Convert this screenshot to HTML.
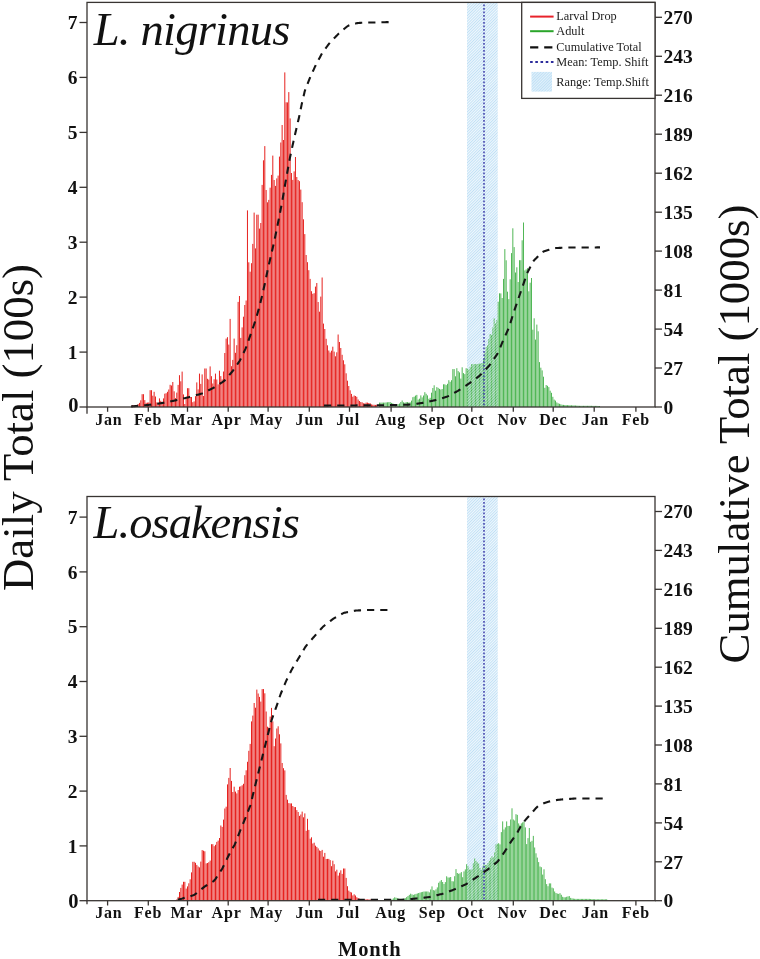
<!DOCTYPE html><html><head><meta charset="utf-8"><style>html,body{margin:0;padding:0;background:#fff;width:760px;height:959px;overflow:hidden}svg{display:block;will-change:transform}</style></head><body>
<svg width="760" height="959" viewBox="0 0 760 959" font-family='"Liberation Serif", serif'>
<defs><pattern id="hatch" patternUnits="userSpaceOnUse" width="2" height="2" patternTransform="rotate(45)"><rect width="2" height="2" fill="rgb(192,224,245)"/><rect width="0.75" height="2" fill="#eef7fd"/></pattern><pattern id="hatchw" patternUnits="userSpaceOnUse" width="2" height="2" patternTransform="rotate(45)"><rect width="0.75" height="2" fill="#fff" fill-opacity="0.6"/></pattern></defs>
<rect width="760" height="959" fill="#fff"/>
<rect x="467" y="3.0" width="30.7" height="404.0" fill="url(#hatch)"/>
<path d="M132.80 407.0V405.0M134.13 407.0V405.4M135.47 407.0V405.8M136.80 407.0V405.3M138.13 407.0V404.1M139.47 407.0V402.9M140.80 407.0V400.3M142.13 407.0V394.2M143.47 407.0V394.2M144.80 407.0V400.1M146.13 407.0V402.8M147.47 407.0V402.6M148.80 407.0V402.4M150.13 407.0V390.2M151.47 407.0V390.2M152.80 407.0V395.7M154.13 407.0V391.8M155.47 407.0V396.5M156.80 407.0V402.4M158.13 407.0V403.1M159.47 407.0V398.4M160.80 407.0V400.8M162.13 407.0V403.5M163.47 407.0V398.4M164.80 407.0V393.7M166.13 407.0V393.2M167.47 407.0V391.8M168.80 407.0V389.5M170.13 407.0V384.8M171.47 407.0V385.5M172.80 407.0V382.0M174.13 407.0V391.3M175.47 407.0V398.1M176.80 407.0V392.6M178.13 407.0V384.9M179.47 407.0V375.2M180.80 407.0V381.3M182.13 407.0V371.6M183.47 407.0V394.4M184.80 407.0V404.0M186.13 407.0V398.1M187.47 407.0V388.2M188.80 407.0V388.2M190.13 407.0V397.0M191.47 407.0V397.0M192.80 407.0V402.2M194.13 407.0V401.4M195.47 407.0V396.2M196.80 407.0V382.4M198.13 407.0V389.4M199.47 407.0V373.6M200.80 407.0V383.9M202.13 407.0V374.4M203.46 407.0V396.0M204.80 407.0V368.5M206.13 407.0V368.5M207.46 407.0V378.8M208.80 407.0V379.6M210.13 407.0V366.4M211.46 407.0V376.2M212.80 407.0V383.5M214.13 407.0V379.3M215.46 407.0V373.6M216.80 407.0V379.5M218.13 407.0V384.4M219.46 407.0V370.7M220.80 407.0V376.1M222.13 407.0V379.4M223.46 407.0V371.5M224.80 407.0V353.0M226.13 407.0V338.6M227.46 407.0V337.2M228.80 407.0V344.6M230.13 407.0V318.9M231.46 407.0V366.2M232.80 407.0V359.9M234.13 407.0V338.6M235.46 407.0V352.8M236.80 407.0V345.2M238.13 407.0V301.9M239.46 407.0V296.0M240.80 407.0V337.9M242.13 407.0V327.4M243.46 407.0V316.7M244.80 407.0V305.0M246.13 407.0V300.5M247.46 407.0V210.4M248.80 407.0V262.3M250.13 407.0V271.7M251.46 407.0V263.2M252.80 407.0V243.9M254.13 407.0V212.6M255.46 407.0V248.4M256.80 407.0V214.7M258.13 407.0V214.7M259.46 407.0V228.6M260.80 407.0V223.0M262.13 407.0V184.9M263.46 407.0V160.3M264.80 407.0V146.1M266.13 407.0V190.0M267.46 407.0V202.3M268.80 407.0V199.9M270.13 407.0V187.7M271.46 407.0V174.9M272.80 407.0V155.6M274.13 407.0V180.0M275.46 407.0V185.9M276.80 407.0V178.4M278.13 407.0V175.6M279.46 407.0V156.6M280.80 407.0V142.5M282.13 407.0V125.0M283.46 407.0V140.0M284.80 407.0V72.4M286.13 407.0V102.3M287.46 407.0V102.4M288.80 407.0V92.1M290.13 407.0V118.4M291.46 407.0V173.0M292.80 407.0V179.9M294.13 407.0V171.4M295.46 407.0V157.0M296.80 407.0V177.0M298.13 407.0V180.0M299.46 407.0V181.2M300.80 407.0V189.6M302.13 407.0V202.2M303.46 407.0V219.3M304.80 407.0V234.1M306.13 407.0V255.0M307.46 407.0V262.2M308.80 407.0V270.2M310.13 407.0V278.9M311.46 407.0V291.2M312.80 407.0V293.8M314.13 407.0V293.2M315.46 407.0V286.6M316.80 407.0V283.0M318.13 407.0V302.0M319.46 407.0V311.7M320.80 407.0V296.6M322.13 407.0V277.5M323.46 407.0V323.6M324.80 407.0V329.0M326.13 407.0V338.8M327.46 407.0V345.3M328.80 407.0V350.5M330.13 407.0V352.5M331.46 407.0V350.7M332.80 407.0V346.7M334.13 407.0V351.6M335.46 407.0V356.3M336.79 407.0V352.3M338.13 407.0V334.5M339.46 407.0V342.0M340.79 407.0V348.0M342.13 407.0V354.8M343.46 407.0V360.3M344.79 407.0V364.3M346.13 407.0V373.3M347.46 407.0V380.7M348.79 407.0V386.0M350.13 407.0V390.3M351.46 407.0V393.9M352.79 407.0V396.7M354.13 407.0V395.5M355.46 407.0V396.0M356.79 407.0V396.8M358.13 407.0V399.5M359.46 407.0V401.0M360.79 407.0V402.0M362.13 407.0V402.3M363.46 407.0V403.3M364.79 407.0V403.4M366.13 407.0V402.6M367.46 407.0V402.6M368.79 407.0V403.0M370.13 407.0V403.2M371.46 407.0V404.4M372.79 407.0V404.7M374.13 407.0V404.8M375.46 407.0V404.9M376.79 407.0V404.9" stroke="#e6221f" stroke-width="1" fill="none"/>
<path d="M379.50 407.0V402.6M380.83 407.0V402.6M382.17 407.0V402.6M383.50 407.0V402.6M384.83 407.0V402.6M386.17 407.0V402.4M387.50 407.0V402.3M388.83 407.0V402.1M390.17 407.0V402.1M391.50 407.0V402.9M392.83 407.0V403.4M394.17 407.0V404.0M395.50 407.0V404.2M396.83 407.0V404.2M398.17 407.0V404.2M399.50 407.0V403.5M400.83 407.0V402.0M402.17 407.0V400.5M403.50 407.0V402.3M404.83 407.0V402.7M406.17 407.0V402.1M407.50 407.0V402.1M408.83 407.0V402.5M410.17 407.0V402.3M411.50 407.0V400.6M412.83 407.0V397.2M414.17 407.0V396.7M415.50 407.0V395.6M416.83 407.0V394.9M418.17 407.0V399.6M419.50 407.0V398.7M420.83 407.0V395.4M422.17 407.0V397.4M423.50 407.0V395.5M424.83 407.0V392.2M426.17 407.0V393.8M427.50 407.0V395.4M428.83 407.0V398.8M430.17 407.0V397.8M431.50 407.0V392.7M432.83 407.0V388.0M434.17 407.0V385.3M435.50 407.0V390.7M436.83 407.0V387.1M438.17 407.0V387.9M439.50 407.0V388.9M440.83 407.0V389.5M442.17 407.0V389.0M443.50 407.0V384.3M444.83 407.0V384.3M446.17 407.0V385.1M447.50 407.0V383.8M448.83 407.0V380.2M450.16 407.0V381.8M451.50 407.0V380.2M452.83 407.0V369.1M454.16 407.0V369.1M455.50 407.0V376.3M456.83 407.0V368.2M458.16 407.0V371.1M459.50 407.0V372.4M460.83 407.0V378.6M462.16 407.0V367.3M463.50 407.0V373.1M464.83 407.0V374.1M466.16 407.0V368.2M467.50 407.0V368.8M468.83 407.0V369.5M470.16 407.0V366.9M471.50 407.0V364.2M472.83 407.0V364.2M474.16 407.0V364.1M475.50 407.0V364.1M476.83 407.0V364.1M478.16 407.0V363.9M479.50 407.0V363.6M480.83 407.0V363.4M482.16 407.0V363.0M483.50 407.0V359.0M484.83 407.0V352.3M486.16 407.0V347.1M487.50 407.0V345.4M488.83 407.0V339.2M490.16 407.0V334.0M491.50 407.0V334.9M492.83 407.0V327.4M494.16 407.0V318.3M495.50 407.0V323.5M496.83 407.0V320.1M498.16 407.0V301.7M499.50 407.0V293.3M500.83 407.0V293.4M502.16 407.0V298.0M503.50 407.0V278.9M504.83 407.0V249.1M506.16 407.0V260.3M507.50 407.0V291.7M508.83 407.0V299.1M510.16 407.0V279.3M511.50 407.0V253.1M512.83 407.0V228.3M514.16 407.0V247.1M515.50 407.0V272.5M516.83 407.0V267.3M518.16 407.0V282.0M519.50 407.0V260.2M520.83 407.0V260.2M522.16 407.0V240.3M523.50 407.0V222.5M524.83 407.0V270.4M526.16 407.0V269.4M527.50 407.0V268.2M528.83 407.0V291.3M530.16 407.0V282.7M531.50 407.0V278.0M532.83 407.0V329.7M534.16 407.0V318.3M535.50 407.0V339.6M536.83 407.0V324.6M538.16 407.0V331.3M539.50 407.0V362.1M540.83 407.0V367.7M542.16 407.0V370.4M543.50 407.0V376.7M544.83 407.0V387.8M546.16 407.0V385.0M547.50 407.0V385.8M548.83 407.0V387.1M550.16 407.0V390.7M551.50 407.0V392.8M552.83 407.0V396.8M554.16 407.0V399.6M555.50 407.0V400.6M556.83 407.0V402.4M558.16 407.0V403.3M559.50 407.0V403.8M560.83 407.0V404.3M562.16 407.0V404.8M563.50 407.0V404.9M564.83 407.0V405.0M566.16 407.0V405.1M567.50 407.0V405.2M568.83 407.0V405.2M570.16 407.0V405.3M571.50 407.0V405.3M572.83 407.0V405.4M574.16 407.0V405.4M575.50 407.0V405.5M576.83 407.0V405.6M578.16 407.0V405.7M579.50 407.0V405.8M580.83 407.0V405.8M582.16 407.0V405.8M583.49 407.0V405.8M584.83 407.0V405.8M586.16 407.0V405.8M587.49 407.0V405.8M588.83 407.0V405.8M590.16 407.0V405.8M591.49 407.0V405.8M592.83 407.0V405.9M594.16 407.0V405.9M595.49 407.0V405.9M596.83 407.0V405.9M598.16 407.0V406.0M599.49 407.0V406.0" stroke="#32aa38" stroke-width="0.85" fill="none"/>
<rect x="467" y="3.0" width="30.7" height="404.0" fill="url(#hatchw)"/>
<line x1="484" y1="4.4" x2="484" y2="407.0" stroke="#3a3aa8" stroke-width="1.5" stroke-dasharray="1.8 1.7"/>
<path d="M131.00 406.50 L131.96 406.41 L132.64 406.35 L133.40 406.28 L134.19 406.21 L134.99 406.14 L135.79 406.06 L136.59 405.99 L137.39 405.92 L138.19 405.85 L138.99 405.77 L139.78 405.70 L140.58 405.63 L141.38 405.56 L142.18 405.48 L142.98 405.41 L143.78 405.34 L144.58 405.27 L145.37 405.19 L146.17 405.12 L146.97 405.05 L147.77 404.97 L148.57 404.90 L149.37 404.81 L150.16 404.72 L150.96 404.62 L151.75 404.51 L152.55 404.40 L153.34 404.28 L154.13 404.17 L154.93 404.06 L155.72 403.95 L156.52 403.83 L157.31 403.72 L158.10 403.61 L158.90 403.50 L159.69 403.38 L160.49 403.27 L161.28 403.16 L162.07 403.04 L162.86 402.91 L163.65 402.77 L164.44 402.62 L165.23 402.46 L166.01 402.30 L166.80 402.14 L167.58 401.98 L168.37 401.82 L169.15 401.66 L169.94 401.50 L170.73 401.34 L171.51 401.18 L172.30 401.02 L173.08 400.86 L173.87 400.69 L174.65 400.53 L175.44 400.36 L176.22 400.19 L177.00 400.01 L177.78 399.83 L178.56 399.64 L179.34 399.45 L180.12 399.27 L180.90 399.08 L181.68 398.90 L182.46 398.71 L183.24 398.52 L184.02 398.34 L184.80 398.15 L185.58 397.96 L186.36 397.78 L187.14 397.59 L187.92 397.40 L188.70 397.21 L189.47 397.01 L190.25 396.80 L191.02 396.59 L191.79 396.37 L192.57 396.16 L193.34 395.94 L194.11 395.72 L194.88 395.51 L195.66 395.29 L196.43 395.07 L197.20 394.86 L197.97 394.64 L198.74 394.42 L199.52 394.21 L200.29 393.99 L201.06 393.76 L201.82 393.52 L202.56 393.24 L203.30 392.92 L204.02 392.58 L204.74 392.22 L205.45 391.86 L206.17 391.50 L206.89 391.14 L207.60 390.78 L208.32 390.42 L209.03 390.05 L209.75 389.69 L210.47 389.33 L211.18 388.97 L211.90 388.61 L212.61 388.24 L213.32 387.87 L214.02 387.48 L214.70 387.06 L215.38 386.64 L216.06 386.21 L216.73 385.77 L217.41 385.34 L218.08 384.91 L218.76 384.47 L219.43 384.04 L220.10 383.60 L220.78 383.17 L221.45 382.73 L222.13 382.30 L222.79 381.86 L223.45 381.40 L224.07 380.91 L224.66 380.38 L225.21 379.80 L225.74 379.20 L226.26 378.59 L226.78 377.98 L227.30 377.37 L227.82 376.76 L228.34 376.15 L228.86 375.54 L229.38 374.93 L229.90 374.32 L230.42 373.71 L230.94 373.10 L231.46 372.49 L231.98 371.87 L232.48 371.25 L232.97 370.62 L233.45 369.97 L233.91 369.32 L234.36 368.66 L234.81 368.00 L235.27 367.33 L235.72 366.67 L236.17 366.01 L236.62 365.35 L237.07 364.69 L237.53 364.02 L237.98 363.36 L238.43 362.70 L238.88 362.03 L239.32 361.37 L239.74 360.69 L240.14 359.99 L240.51 359.28 L240.87 358.57 L241.22 357.84 L241.56 357.12 L241.91 356.40 L242.25 355.67 L242.59 354.95 L242.94 354.22 L243.28 353.50 L243.63 352.78 L243.97 352.05 L244.32 351.33 L244.66 350.60 L245.00 349.88 L245.34 349.15 L245.67 348.42 L245.97 347.68 L246.26 346.93 L246.53 346.18 L246.80 345.42 L247.06 344.66 L247.33 343.91 L247.59 343.15 L247.85 342.39 L248.12 341.63 L248.38 340.88 L248.64 340.12 L248.91 339.36 L249.17 338.61 L249.43 337.85 L249.70 337.09 L249.96 336.33 L250.23 335.58 L250.49 334.82 L250.75 334.06 L251.02 333.30 L251.28 332.55 L251.54 331.79 L251.81 331.03 L252.07 330.28 L252.34 329.52 L252.60 328.76 L252.86 328.00 L253.13 327.25 L253.39 326.49 L253.66 325.73 L253.92 324.97 L254.18 324.22 L254.45 323.46 L254.71 322.70 L254.96 321.94 L255.21 321.18 L255.45 320.41 L255.68 319.65 L255.90 318.88 L256.13 318.11 L256.35 317.34 L256.57 316.57 L256.80 315.80 L257.02 315.03 L257.24 314.25 L257.47 313.48 L257.69 312.71 L257.91 311.94 L258.14 311.17 L258.36 310.40 L258.58 309.63 L258.80 308.86 L259.02 308.09 L259.23 307.32 L259.43 306.54 L259.63 305.76 L259.82 304.99 L260.02 304.21 L260.21 303.43 L260.40 302.65 L260.60 301.87 L260.79 301.09 L260.98 300.32 L261.17 299.54 L261.37 298.76 L261.56 297.98 L261.75 297.20 L261.95 296.42 L262.13 295.65 L262.32 294.87 L262.50 294.08 L262.68 293.30 L262.85 292.52 L263.02 291.74 L263.20 290.95 L263.37 290.17 L263.54 289.39 L263.72 288.60 L263.89 287.82 L264.06 287.04 L264.24 286.26 L264.41 285.47 L264.58 284.69 L264.76 283.91 L264.93 283.12 L265.10 282.34 L265.27 281.56 L265.43 280.77 L265.60 279.99 L265.76 279.20 L265.93 278.42 L266.09 277.63 L266.25 276.85 L266.42 276.06 L266.58 275.28 L266.75 274.49 L266.91 273.71 L267.07 272.92 L267.24 272.14 L267.40 271.35 L267.56 270.57 L267.73 269.78 L267.89 269.00 L268.06 268.21 L268.24 267.43 L268.41 266.65 L268.59 265.87 L268.77 265.08 L268.95 264.30 L269.13 263.52 L269.31 262.74 L269.49 261.96 L269.67 261.18 L269.85 260.40 L270.03 259.61 L270.21 258.83 L270.39 258.05 L270.57 257.27 L270.75 256.49 L270.93 255.71 L271.11 254.93 L271.29 254.14 L271.47 253.36 L271.65 252.58 L271.84 251.80 L272.02 251.02 L272.20 250.24 L272.39 249.46 L272.57 248.68 L272.75 247.90 L272.93 247.12 L273.12 246.34 L273.30 245.56 L273.48 244.77 L273.66 243.99 L273.84 243.21 L274.02 242.43 L274.20 241.65 L274.37 240.86 L274.53 240.08 L274.69 239.29 L274.85 238.51 L275.01 237.72 L275.17 236.94 L275.33 236.15 L275.49 235.37 L275.65 234.58 L275.81 233.79 L275.97 233.01 L276.13 232.22 L276.29 231.44 L276.45 230.65 L276.62 229.87 L276.78 229.08 L276.94 228.29 L277.09 227.51 L277.25 226.72 L277.41 225.94 L277.57 225.15 L277.72 224.36 L277.88 223.58 L278.04 222.79 L278.19 222.00 L278.35 221.22 L278.50 220.43 L278.66 219.64 L278.82 218.86 L278.97 218.07 L279.13 217.28 L279.28 216.50 L279.44 215.71 L279.60 214.92 L279.75 214.14 L279.91 213.35 L280.06 212.56 L280.21 211.78 L280.36 210.99 L280.52 210.20 L280.67 209.41 L280.82 208.63 L280.97 207.84 L281.13 207.05 L281.28 206.27 L281.43 205.48 L281.58 204.69 L281.74 203.90 L281.89 203.12 L282.04 202.33 L282.19 201.54 L282.33 200.75 L282.47 199.96 L282.61 199.17 L282.74 198.38 L282.88 197.59 L283.01 196.80 L283.14 196.01 L283.28 195.22 L283.41 194.43 L283.54 193.64 L283.68 192.85 L283.81 192.06 L283.94 191.26 L284.08 190.47 L284.21 189.68 L284.34 188.89 L284.48 188.10 L284.61 187.31 L284.74 186.52 L284.88 185.73 L285.02 184.94 L285.16 184.15 L285.30 183.36 L285.44 182.57 L285.58 181.78 L285.72 180.99 L285.87 180.20 L286.01 179.42 L286.15 178.63 L286.29 177.84 L286.44 177.05 L286.58 176.26 L286.72 175.47 L286.86 174.68 L287.00 173.89 L287.15 173.10 L287.29 172.31 L287.43 171.52 L287.57 170.73 L287.72 169.95 L287.86 169.16 L288.00 168.37 L288.14 167.58 L288.29 166.79 L288.43 166.00 L288.57 165.21 L288.71 164.42 L288.86 163.63 L289.00 162.84 L289.14 162.05 L289.28 161.26 L289.43 160.48 L289.57 159.69 L289.72 158.90 L289.87 158.11 L290.03 157.33 L290.20 156.54 L290.37 155.76 L290.53 154.97 L290.70 154.19 L290.87 153.41 L291.04 152.62 L291.21 151.84 L291.37 151.05 L291.54 150.27 L291.71 149.48 L291.88 148.70 L292.05 147.92 L292.21 147.13 L292.38 146.35 L292.55 145.56 L292.72 144.78 L292.90 144.00 L293.07 143.22 L293.25 142.43 L293.42 141.65 L293.60 140.87 L293.78 140.09 L293.96 139.31 L294.13 138.52 L294.31 137.74 L294.49 136.96 L294.67 136.18 L294.84 135.40 L295.02 134.61 L295.20 133.83 L295.38 133.05 L295.55 132.27 L295.73 131.49 L295.91 130.70 L296.09 129.92 L296.27 129.14 L296.45 128.36 L296.63 127.58 L296.82 126.80 L297.00 126.02 L297.18 125.24 L297.36 124.45 L297.54 123.67 L297.73 122.89 L297.91 122.11 L298.09 121.33 L298.27 120.55 L298.45 119.77 L298.64 118.99 L298.82 118.21 L298.99 117.42 L299.16 116.64 L299.33 115.86 L299.49 115.07 L299.66 114.29 L299.82 113.50 L299.98 112.71 L300.14 111.93 L300.30 111.14 L300.46 110.36 L300.62 109.57 L300.78 108.79 L300.94 108.00 L301.10 107.22 L301.26 106.43 L301.42 105.64 L301.59 104.86 L301.75 104.08 L301.93 103.29 L302.10 102.51 L302.28 101.73 L302.46 100.95 L302.65 100.17 L302.83 99.39 L303.01 98.60 L303.19 97.82 L303.38 97.04 L303.56 96.26 L303.74 95.48 L303.92 94.70 L304.10 93.92 L304.29 93.14 L304.47 92.36 L304.67 91.58 L304.88 90.81 L305.12 90.05 L305.39 89.29 L305.68 88.55 L305.97 87.80 L306.27 87.05 L306.56 86.31 L306.86 85.56 L307.16 84.82 L307.45 84.07 L307.75 83.33 L308.04 82.58 L308.34 81.84 L308.63 81.09 L308.93 80.35 L309.23 79.60 L309.52 78.86 L309.83 78.11 L310.14 77.38 L310.46 76.64 L310.79 75.91 L311.12 75.18 L311.45 74.45 L311.79 73.72 L312.12 72.99 L312.45 72.26 L312.79 71.53 L313.12 70.81 L313.46 70.08 L313.79 69.35 L314.12 68.62 L314.46 67.89 L314.79 67.16 L315.13 66.43 L315.48 65.71 L315.84 64.99 L316.20 64.28 L316.57 63.57 L316.95 62.86 L317.33 62.15 L317.70 61.45 L318.08 60.74 L318.46 60.03 L318.83 59.32 L319.21 58.62 L319.59 57.91 L319.96 57.20 L320.34 56.49 L320.72 55.78 L321.10 55.08 L321.48 54.37 L321.87 53.67 L322.29 52.99 L322.73 52.32 L323.19 51.67 L323.66 51.02 L324.14 50.38 L324.61 49.73 L325.09 49.09 L325.56 48.44 L326.04 47.79 L326.52 47.15 L326.99 46.50 L327.47 45.86 L327.95 45.21 L328.42 44.57 L328.90 43.93 L329.39 43.30 L329.90 42.68 L330.44 42.08 L330.98 41.50 L331.54 40.92 L332.10 40.35 L332.66 39.77 L333.22 39.20 L333.78 38.63 L334.34 38.05 L334.90 37.48 L335.47 36.91 L336.03 36.33 L336.59 35.76 L337.15 35.19 L337.71 34.62 L338.28 34.06 L338.87 33.51 L339.46 32.97 L340.06 32.44 L340.67 31.92 L341.28 31.40 L341.89 30.88 L342.51 30.36 L343.12 29.84 L343.73 29.32 L344.34 28.80 L344.95 28.28 L345.56 27.76 L346.17 27.24 L346.79 26.74 L347.42 26.26 L348.08 25.84 L348.79 25.50 L349.53 25.23 L350.29 24.99 L351.06 24.77 L351.84 24.56 L352.61 24.34 L353.38 24.12 L354.15 23.91 L354.93 23.69 L355.70 23.48 L356.48 23.29 L357.26 23.13 L358.05 23.01 L358.84 22.94 L359.64 22.88 L360.44 22.84 L361.24 22.80 L362.04 22.75 L362.84 22.71 L363.64 22.67 L364.44 22.64 L365.25 22.61 L366.05 22.59 L366.85 22.57 L367.65 22.56 L368.45 22.55 L369.25 22.54 L370.06 22.53 L370.86 22.51 L371.66 22.50 L372.46 22.49 L373.26 22.48 L374.06 22.47 L374.87 22.46 L375.67 22.44 L376.47 22.43 L377.27 22.42 L378.07 22.41 L378.88 22.39 L379.68 22.37 L380.48 22.34 L381.28 22.32 L382.08 22.30 L382.88 22.27 L383.68 22.25 L384.49 22.22 L385.29 22.20 L386.09 22.17 L386.89 22.15 L387.69 22.12 L388.49 22.10 L389.29 22.07 L390.06 22.05 L390.73 22.03 L391.70 22.00" fill="none" stroke="#151515" stroke-width="2.1" stroke-dasharray="7.2 6"/>
<path d="M324.00 405.60 L324.97 405.59 L325.65 405.59 L326.41 405.59 L327.21 405.58 L328.01 405.58 L328.81 405.57 L329.62 405.57 L330.42 405.56 L331.22 405.56 L332.02 405.56 L332.83 405.55 L333.63 405.55 L334.43 405.54 L335.23 405.54 L336.03 405.53 L336.84 405.53 L337.64 405.52 L338.44 405.52 L339.24 405.52 L340.05 405.51 L340.85 405.51 L341.65 405.50 L342.45 405.50 L343.25 405.49 L344.06 405.49 L344.86 405.48 L345.66 405.48 L346.46 405.48 L347.27 405.47 L348.07 405.47 L348.87 405.46 L349.67 405.46 L350.48 405.45 L351.28 405.45 L352.08 405.44 L352.88 405.44 L353.68 405.44 L354.49 405.43 L355.29 405.43 L356.09 405.42 L356.89 405.42 L357.70 405.41 L358.50 405.41 L359.30 405.40 L360.10 405.40 L360.91 405.39 L361.71 405.39 L362.51 405.38 L363.31 405.37 L364.11 405.37 L364.92 405.36 L365.72 405.36 L366.52 405.35 L367.32 405.34 L368.13 405.34 L368.93 405.33 L369.73 405.33 L370.53 405.32 L371.34 405.31 L372.14 405.31 L372.94 405.30 L373.74 405.29 L374.54 405.29 L375.35 405.28 L376.15 405.28 L376.95 405.27 L377.75 405.26 L378.56 405.26 L379.36 405.25 L380.16 405.24 L380.96 405.24 L381.76 405.23 L382.57 405.23 L383.37 405.22 L384.17 405.21 L384.97 405.21 L385.78 405.20 L386.58 405.18 L387.38 405.17 L388.18 405.15 L388.98 405.14 L389.79 405.12 L390.59 405.10 L391.39 405.08 L392.19 405.07 L393.00 405.05 L393.80 405.03 L394.60 405.02 L395.40 405.00 L396.20 404.98 L397.01 404.96 L397.81 404.95 L398.61 404.93 L399.41 404.91 L400.21 404.89 L401.02 404.86 L401.82 404.84 L402.62 404.81 L403.42 404.78 L404.22 404.76 L405.03 404.73 L405.83 404.70 L406.63 404.68 L407.43 404.65 L408.23 404.62 L409.03 404.59 L409.84 404.56 L410.64 404.53 L411.44 404.47 L412.23 404.40 L413.03 404.30 L413.82 404.19 L414.62 404.07 L415.41 403.95 L416.20 403.83 L417.00 403.71 L417.79 403.59 L418.58 403.47 L419.38 403.34 L420.17 403.22 L420.96 403.10 L421.75 402.98 L422.55 402.85 L423.34 402.72 L424.12 402.57 L424.91 402.41 L425.70 402.25 L426.48 402.08 L427.26 401.91 L428.05 401.74 L428.83 401.57 L429.62 401.40 L430.40 401.23 L431.19 401.06 L431.97 400.89 L432.75 400.72 L433.54 400.55 L434.32 400.38 L435.11 400.21 L435.89 400.03 L436.67 399.84 L437.44 399.63 L438.21 399.40 L438.97 399.16 L439.74 398.92 L440.50 398.67 L441.27 398.43 L442.03 398.18 L442.79 397.94 L443.56 397.69 L444.32 397.45 L445.08 397.20 L445.85 396.95 L446.61 396.70 L447.36 396.44 L448.11 396.14 L448.83 395.81 L449.55 395.45 L450.25 395.07 L450.96 394.68 L451.66 394.29 L452.36 393.91 L453.06 393.52 L453.77 393.13 L454.47 392.74 L455.17 392.36 L455.87 391.97 L456.58 391.58 L457.28 391.19 L457.98 390.80 L458.67 390.39 L459.35 389.97 L460.02 389.54 L460.69 389.10 L461.36 388.65 L462.03 388.21 L462.69 387.76 L463.36 387.31 L464.03 386.87 L464.69 386.42 L465.36 385.97 L466.03 385.53 L466.69 385.08 L467.36 384.63 L468.03 384.19 L468.69 383.73 L469.35 383.28 L470.00 382.81 L470.65 382.34 L471.30 381.87 L471.94 381.39 L472.59 380.91 L473.23 380.44 L473.88 379.96 L474.52 379.48 L475.17 379.00 L475.81 378.53 L476.46 378.05 L477.10 377.57 L477.75 377.09 L478.39 376.61 L479.02 376.12 L479.64 375.61 L480.23 375.08 L480.80 374.52 L481.36 373.94 L481.91 373.36 L482.46 372.78 L483.01 372.19 L483.56 371.61 L484.11 371.02 L484.66 370.44 L485.21 369.85 L485.76 369.27 L486.31 368.69 L486.86 368.10 L487.41 367.52 L487.96 366.93 L488.50 366.34 L489.03 365.74 L489.53 365.12 L490.02 364.48 L490.49 363.83 L490.95 363.17 L491.40 362.51 L491.86 361.86 L492.32 361.20 L492.78 360.54 L493.23 359.88 L493.69 359.22 L494.15 358.56 L494.61 357.90 L495.06 357.24 L495.52 356.58 L495.98 355.92 L496.43 355.26 L496.89 354.60 L497.32 353.93 L497.72 353.24 L498.08 352.53 L498.42 351.80 L498.73 351.06 L499.04 350.32 L499.35 349.58 L499.66 348.84 L499.97 348.10 L500.28 347.36 L500.59 346.62 L500.90 345.88 L501.20 345.14 L501.51 344.40 L501.82 343.66 L502.13 342.92 L502.44 342.18 L502.75 341.44 L503.07 340.70 L503.39 339.97 L503.72 339.24 L504.04 338.50 L504.37 337.77 L504.70 337.04 L505.03 336.31 L505.36 335.58 L505.69 334.85 L506.02 334.11 L506.35 333.38 L506.68 332.65 L507.01 331.92 L507.34 331.19 L507.67 330.46 L508.00 329.72 L508.32 328.99 L508.64 328.25 L508.94 327.51 L509.21 326.76 L509.46 326.00 L509.70 325.23 L509.94 324.47 L510.18 323.70 L510.42 322.93 L510.66 322.17 L510.89 321.40 L511.13 320.64 L511.37 319.87 L511.61 319.10 L511.85 318.34 L512.08 317.57 L512.32 316.80 L512.56 316.04 L512.80 315.27 L513.04 314.51 L513.29 313.75 L513.54 312.98 L513.80 312.22 L514.05 311.46 L514.31 310.70 L514.56 309.94 L514.82 309.18 L515.07 308.42 L515.33 307.66 L515.58 306.90 L515.84 306.14 L516.09 305.38 L516.35 304.62 L516.61 303.86 L516.86 303.10 L517.12 302.34 L517.37 301.57 L517.63 300.81 L517.89 300.05 L518.15 299.30 L518.41 298.54 L518.67 297.78 L518.94 297.02 L519.20 296.27 L519.47 295.51 L519.73 294.75 L519.99 293.99 L520.26 293.23 L520.52 292.48 L520.79 291.72 L521.05 290.96 L521.31 290.20 L521.58 289.45 L521.84 288.69 L522.10 287.93 L522.37 287.17 L522.63 286.41 L522.88 285.65 L523.14 284.89 L523.40 284.13 L523.65 283.37 L523.91 282.61 L524.16 281.85 L524.42 281.09 L524.67 280.33 L524.93 279.57 L525.18 278.81 L525.44 278.05 L525.69 277.29 L525.95 276.53 L526.21 275.77 L526.47 275.01 L526.75 274.26 L527.05 273.52 L527.38 272.79 L527.73 272.07 L528.09 271.35 L528.45 270.63 L528.81 269.92 L529.17 269.20 L529.53 268.48 L529.89 267.77 L530.25 267.05 L530.61 266.33 L530.97 265.62 L531.34 264.90 L531.70 264.18 L532.06 263.47 L532.43 262.76 L532.82 262.06 L533.25 261.39 L533.73 260.77 L534.26 260.17 L534.81 259.59 L535.38 259.02 L535.94 258.46 L536.51 257.89 L537.08 257.32 L537.65 256.75 L538.21 256.19 L538.78 255.62 L539.35 255.05 L539.91 254.49 L540.48 253.92 L541.05 253.36 L541.63 252.81 L542.24 252.32 L542.90 251.89 L543.60 251.55 L544.34 251.27 L545.10 251.02 L545.87 250.78 L546.63 250.54 L547.40 250.30 L548.16 250.06 L548.93 249.82 L549.69 249.58 L550.46 249.34 L551.22 249.10 L551.99 248.86 L552.76 248.62 L553.53 248.41 L554.31 248.24 L555.09 248.12 L555.89 248.05 L556.69 248.01 L557.49 247.97 L558.29 247.94 L559.09 247.90 L559.89 247.87 L560.69 247.84 L561.50 247.80 L562.30 247.77 L563.10 247.74 L563.90 247.70 L564.70 247.67 L565.50 247.64 L566.31 247.60 L567.11 247.57 L567.91 247.54 L568.71 247.52 L569.51 247.51 L570.32 247.50 L571.12 247.50 L571.92 247.50 L572.72 247.50 L573.52 247.50 L574.33 247.50 L575.13 247.50 L575.93 247.50 L576.73 247.50 L577.54 247.50 L578.34 247.50 L579.14 247.50 L579.94 247.50 L580.75 247.50 L581.55 247.50 L582.35 247.50 L583.15 247.50 L583.95 247.50 L584.76 247.50 L585.56 247.49 L586.36 247.49 L587.16 247.49 L587.97 247.48 L588.77 247.47 L589.57 247.47 L590.37 247.46 L591.17 247.46 L591.98 247.45 L592.78 247.45 L593.58 247.44 L594.38 247.44 L595.19 247.43 L595.99 247.43 L596.79 247.42 L597.59 247.42 L598.35 247.41 L599.03 247.41 L600.00 247.40" fill="none" stroke="#151515" stroke-width="2.1" stroke-dasharray="7.2 6"/>
<rect x="87.0" y="2.4" width="568.0" height="404.6" fill="none" stroke="#383432" stroke-width="1.3"/>
<line x1="79.5" y1="407.0" x2="87.0" y2="407.0" stroke="#383432" stroke-width="1.3"/>
<text x="78.4" y="411.9" font-size="20.5" font-weight="bold" text-anchor="end" fill="#111">0</text>
<line x1="79.5" y1="352.1" x2="87.0" y2="352.1" stroke="#383432" stroke-width="1.3"/>
<text x="77.6" y="358.8" font-size="19.5" font-weight="bold" text-anchor="end" fill="#111">1</text>
<line x1="79.5" y1="297.1" x2="87.0" y2="297.1" stroke="#383432" stroke-width="1.3"/>
<text x="77.6" y="303.8" font-size="19.5" font-weight="bold" text-anchor="end" fill="#111">2</text>
<line x1="79.5" y1="242.2" x2="87.0" y2="242.2" stroke="#383432" stroke-width="1.3"/>
<text x="77.6" y="248.9" font-size="19.5" font-weight="bold" text-anchor="end" fill="#111">3</text>
<line x1="79.5" y1="187.3" x2="87.0" y2="187.3" stroke="#383432" stroke-width="1.3"/>
<text x="77.6" y="194.0" font-size="19.5" font-weight="bold" text-anchor="end" fill="#111">4</text>
<line x1="79.5" y1="132.4" x2="87.0" y2="132.4" stroke="#383432" stroke-width="1.3"/>
<text x="77.6" y="139.1" font-size="19.5" font-weight="bold" text-anchor="end" fill="#111">5</text>
<line x1="79.5" y1="77.4" x2="87.0" y2="77.4" stroke="#383432" stroke-width="1.3"/>
<text x="77.6" y="84.1" font-size="19.5" font-weight="bold" text-anchor="end" fill="#111">6</text>
<line x1="79.5" y1="22.5" x2="87.0" y2="22.5" stroke="#383432" stroke-width="1.3"/>
<text x="77.6" y="29.2" font-size="19.5" font-weight="bold" text-anchor="end" fill="#111">7</text>
<line x1="655.0" y1="407.0" x2="662" y2="407.0" stroke="#383432" stroke-width="1.3"/>
<text x="663.5" y="413.7" font-size="19.5" font-weight="bold" fill="#111">0</text>
<line x1="655.0" y1="368.0" x2="662" y2="368.0" stroke="#383432" stroke-width="1.3"/>
<text x="663.5" y="374.7" font-size="19.5" font-weight="bold" fill="#111">27</text>
<line x1="655.0" y1="329.1" x2="662" y2="329.1" stroke="#383432" stroke-width="1.3"/>
<text x="663.5" y="335.8" font-size="19.5" font-weight="bold" fill="#111">54</text>
<line x1="655.0" y1="290.1" x2="662" y2="290.1" stroke="#383432" stroke-width="1.3"/>
<text x="663.5" y="296.8" font-size="19.5" font-weight="bold" fill="#111">81</text>
<line x1="655.0" y1="251.1" x2="662" y2="251.1" stroke="#383432" stroke-width="1.3"/>
<text x="663.5" y="257.8" font-size="19.5" font-weight="bold" fill="#111">108</text>
<line x1="655.0" y1="212.2" x2="662" y2="212.2" stroke="#383432" stroke-width="1.3"/>
<text x="663.5" y="218.8" font-size="19.5" font-weight="bold" fill="#111">135</text>
<line x1="655.0" y1="173.2" x2="662" y2="173.2" stroke="#383432" stroke-width="1.3"/>
<text x="663.5" y="179.9" font-size="19.5" font-weight="bold" fill="#111">162</text>
<line x1="655.0" y1="134.2" x2="662" y2="134.2" stroke="#383432" stroke-width="1.3"/>
<text x="663.5" y="140.9" font-size="19.5" font-weight="bold" fill="#111">189</text>
<line x1="655.0" y1="95.2" x2="662" y2="95.2" stroke="#383432" stroke-width="1.3"/>
<text x="663.5" y="101.9" font-size="19.5" font-weight="bold" fill="#111">216</text>
<line x1="655.0" y1="56.3" x2="662" y2="56.3" stroke="#383432" stroke-width="1.3"/>
<text x="663.5" y="63.0" font-size="19.5" font-weight="bold" fill="#111">243</text>
<line x1="655.0" y1="17.3" x2="662" y2="17.3" stroke="#383432" stroke-width="1.3"/>
<text x="663.5" y="24.0" font-size="19.5" font-weight="bold" fill="#111">270</text>
<line x1="87.0" y1="407.0" x2="87.0" y2="413.8" stroke="#383432" stroke-width="1.3"/>
<line x1="107.6" y1="407.0" x2="107.6" y2="411.8" stroke="#383432" stroke-width="1.3"/>
<text x="108.8" y="424.7" font-size="16" font-weight="bold" letter-spacing="0.8" text-anchor="middle" fill="#111">Jan</text>
<line x1="148.3" y1="407.0" x2="148.3" y2="411.8" stroke="#383432" stroke-width="1.3"/>
<text x="148.0" y="424.7" font-size="16" font-weight="bold" letter-spacing="0.8" text-anchor="middle" fill="#111">Feb</text>
<line x1="187.5" y1="407.0" x2="187.5" y2="411.8" stroke="#383432" stroke-width="1.3"/>
<text x="186.9" y="424.7" font-size="16" font-weight="bold" letter-spacing="0.8" text-anchor="middle" fill="#111">Mar</text>
<line x1="228.2" y1="407.0" x2="228.2" y2="411.8" stroke="#383432" stroke-width="1.3"/>
<text x="226.6" y="424.7" font-size="16" font-weight="bold" letter-spacing="0.8" text-anchor="middle" fill="#111">Apr</text>
<line x1="268.1" y1="407.0" x2="268.1" y2="411.8" stroke="#383432" stroke-width="1.3"/>
<text x="266.4" y="424.7" font-size="16" font-weight="bold" letter-spacing="0.8" text-anchor="middle" fill="#111">May</text>
<line x1="309.3" y1="407.0" x2="309.3" y2="411.8" stroke="#383432" stroke-width="1.3"/>
<text x="309.7" y="424.7" font-size="16" font-weight="bold" letter-spacing="0.8" text-anchor="middle" fill="#111">Jun</text>
<line x1="349.5" y1="407.0" x2="349.5" y2="411.8" stroke="#383432" stroke-width="1.3"/>
<text x="348.1" y="424.7" font-size="16" font-weight="bold" letter-spacing="0.8" text-anchor="middle" fill="#111">Jul</text>
<line x1="391.1" y1="407.0" x2="391.1" y2="411.8" stroke="#383432" stroke-width="1.3"/>
<text x="390.6" y="424.7" font-size="16" font-weight="bold" letter-spacing="0.8" text-anchor="middle" fill="#111">Aug</text>
<line x1="432.1" y1="407.0" x2="432.1" y2="411.8" stroke="#383432" stroke-width="1.3"/>
<text x="432.4" y="424.7" font-size="16" font-weight="bold" letter-spacing="0.8" text-anchor="middle" fill="#111">Sep</text>
<line x1="471.8" y1="407.0" x2="471.8" y2="411.8" stroke="#383432" stroke-width="1.3"/>
<text x="470.7" y="424.7" font-size="16" font-weight="bold" letter-spacing="0.8" text-anchor="middle" fill="#111">Oct</text>
<line x1="513.3" y1="407.0" x2="513.3" y2="411.8" stroke="#383432" stroke-width="1.3"/>
<text x="512.4" y="424.7" font-size="16" font-weight="bold" letter-spacing="0.8" text-anchor="middle" fill="#111">Nov</text>
<line x1="553.2" y1="407.0" x2="553.2" y2="411.8" stroke="#383432" stroke-width="1.3"/>
<text x="553.3" y="424.7" font-size="16" font-weight="bold" letter-spacing="0.8" text-anchor="middle" fill="#111">Dec</text>
<line x1="594.2" y1="407.0" x2="594.2" y2="411.8" stroke="#383432" stroke-width="1.3"/>
<text x="595.4" y="424.7" font-size="16" font-weight="bold" letter-spacing="0.8" text-anchor="middle" fill="#111">Jan</text>
<line x1="635.9" y1="407.0" x2="635.9" y2="411.8" stroke="#383432" stroke-width="1.3"/>
<text x="635.8" y="424.7" font-size="16" font-weight="bold" letter-spacing="0.8" text-anchor="middle" fill="#111">Feb</text>
<text x="93.7" y="44.8" font-size="46.5" font-style="italic" letter-spacing="-0.75" fill="#111">L. nigrinus</text>
<rect x="521.7" y="2.4" width="133.3" height="96.0" fill="#fff" stroke="#383432" stroke-width="1.3"/>
<line x1="530.1" y1="16.6" x2="553.6" y2="16.6" stroke="#e8232b" stroke-width="2"/>
<line x1="530.1" y1="31.2" x2="553.6" y2="31.2" stroke="#2aa52a" stroke-width="2"/>
<line x1="530.1" y1="47.3" x2="553.6" y2="47.3" stroke="#111" stroke-width="2.3" stroke-dasharray="8.2 5.9"/>
<line x1="530.1" y1="62" x2="554" y2="62" stroke="#2c2c9c" stroke-width="1.8" stroke-dasharray="2.6 2.6"/>
<rect x="531.5" y="71.9" width="20.5" height="19.7" fill="url(#hatch)"/>
<text x="556.3" y="20" font-size="12.3" fill="#222">Larval Drop</text>
<text x="556.3" y="34.6" font-size="12.3" fill="#222">Adult</text>
<text x="556.3" y="51.2" font-size="12.3" fill="#222">Cumulative Total</text>
<text x="556.3" y="65.7" font-size="12.3" fill="#222">Mean: Temp. Shift</text>
<text x="556.3" y="86.4" font-size="12.3" fill="#222">Range: Temp.Shift</text>
<rect x="467" y="497.1" width="30.7" height="403.6" fill="url(#hatch)"/>
<path d="M175.50 900.7V900.0M176.83 900.7V899.4M178.17 900.7V896.9M179.50 900.7V892.0M180.83 900.7V887.9M182.17 900.7V884.6M183.50 900.7V881.8M184.83 900.7V881.8M186.17 900.7V888.6M187.50 900.7V886.4M188.83 900.7V883.3M190.17 900.7V879.3M191.50 900.7V872.4M192.83 900.7V861.8M194.17 900.7V861.8M195.50 900.7V862.8M196.83 900.7V864.9M198.17 900.7V866.5M199.50 900.7V867.4M200.83 900.7V861.6M202.17 900.7V850.1M203.50 900.7V850.7M204.83 900.7V851.3M206.17 900.7V863.4M207.50 900.7V863.0M208.83 900.7V862.2M210.17 900.7V860.6M211.50 900.7V844.2M212.83 900.7V844.2M214.17 900.7V846.2M215.50 900.7V844.8M216.83 900.7V841.9M218.17 900.7V840.6M219.50 900.7V838.0M220.83 900.7V825.5M222.17 900.7V826.9M223.50 900.7V819.6M224.83 900.7V808.5M226.17 900.7V806.7M227.50 900.7V784.4M228.83 900.7V777.9M230.17 900.7V768.0M231.50 900.7V780.9M232.83 900.7V792.0M234.17 900.7V786.7M235.50 900.7V791.6M236.83 900.7V793.4M238.17 900.7V790.0M239.50 900.7V786.7M240.83 900.7V786.3M242.17 900.7V785.3M243.50 900.7V783.8M244.83 900.7V775.2M246.16 900.7V770.3M247.50 900.7V761.8M248.83 900.7V750.8M250.16 900.7V743.9M251.50 900.7V721.4M252.83 900.7V715.6M254.16 900.7V703.0M255.50 900.7V707.7M256.83 900.7V689.6M258.16 900.7V693.5M259.50 900.7V696.9M260.83 900.7V701.6M262.16 900.7V689.1M263.50 900.7V689.1M264.83 900.7V693.3M266.16 900.7V711.5M267.50 900.7V726.7M268.83 900.7V727.7M270.16 900.7V716.6M271.50 900.7V707.9M272.83 900.7V721.4M274.16 900.7V746.2M275.50 900.7V738.5M276.83 900.7V728.5M278.16 900.7V726.3M279.50 900.7V734.3M280.83 900.7V743.4M282.16 900.7V763.0M283.50 900.7V768.2M284.83 900.7V770.4M286.16 900.7V794.9M287.50 900.7V799.7M288.83 900.7V803.1M290.16 900.7V803.4M291.50 900.7V803.4M292.83 900.7V806.0M294.16 900.7V807.1M295.50 900.7V807.1M296.83 900.7V810.1M298.16 900.7V812.0M299.50 900.7V815.9M300.83 900.7V814.5M302.16 900.7V811.6M303.50 900.7V817.3M304.83 900.7V813.4M306.16 900.7V830.8M307.50 900.7V818.8M308.83 900.7V829.9M310.16 900.7V838.7M311.50 900.7V837.3M312.83 900.7V843.5M314.16 900.7V842.7M315.50 900.7V845.7M316.83 900.7V846.9M318.16 900.7V848.4M319.50 900.7V850.5M320.83 900.7V851.0M322.16 900.7V849.9M323.50 900.7V856.7M324.83 900.7V852.9M326.16 900.7V859.0M327.50 900.7V858.9M328.83 900.7V858.9M330.16 900.7V860.1M331.50 900.7V866.2M332.83 900.7V860.7M334.16 900.7V864.2M335.50 900.7V871.4M336.83 900.7V869.7M338.16 900.7V875.6M339.50 900.7V872.7M340.83 900.7V870.3M342.16 900.7V873.9M343.50 900.7V868.5M344.83 900.7V868.5M346.16 900.7V877.9M347.50 900.7V886.2M348.83 900.7V890.6M350.16 900.7V891.9M351.50 900.7V892.5M352.83 900.7V895.4M354.16 900.7V894.3M355.50 900.7V895.5M356.83 900.7V897.2M358.16 900.7V898.0M359.50 900.7V898.7M360.83 900.7V899.0M362.16 900.7V899.1M363.50 900.7V899.2M364.83 900.7V899.3M366.16 900.7V899.3M367.50 900.7V899.4M368.83 900.7V899.4M370.16 900.7V899.4M371.50 900.7V899.5" stroke="#e6221f" stroke-width="1" fill="none"/>
<path d="M392.00 900.7V899.5M393.33 900.7V898.4M394.67 900.7V897.3M396.00 900.7V897.7M397.33 900.7V898.1M398.67 900.7V898.6M400.00 900.7V899.0M401.33 900.7V898.9M402.67 900.7V898.7M404.00 900.7V898.6M405.33 900.7V898.2M406.67 900.7V897.1M408.00 900.7V896.0M409.33 900.7V894.9M410.67 900.7V893.7M412.00 900.7V894.4M413.33 900.7V894.9M414.67 900.7V894.4M416.00 900.7V893.9M417.33 900.7V893.5M418.67 900.7V893.0M420.00 900.7V892.6M421.33 900.7V892.2M422.67 900.7V891.9M424.00 900.7V891.5M425.33 900.7V891.5M426.67 900.7V891.5M428.00 900.7V891.5M429.33 900.7V892.4M430.67 900.7V889.5M432.00 900.7V886.4M433.33 900.7V890.1M434.67 900.7V890.5M436.00 900.7V889.3M437.33 900.7V887.4M438.67 900.7V882.8M440.00 900.7V881.4M441.33 900.7V880.0M442.67 900.7V882.0M444.00 900.7V884.0M445.33 900.7V882.1M446.67 900.7V876.3M448.00 900.7V877.5M449.33 900.7V877.5M450.67 900.7V877.0M452.00 900.7V881.2M453.33 900.7V881.4M454.67 900.7V876.2M456.00 900.7V869.1M457.33 900.7V873.0M458.67 900.7V873.8M460.00 900.7V873.3M461.33 900.7V872.1M462.66 900.7V877.2M464.00 900.7V871.4M465.33 900.7V869.4M466.66 900.7V864.2M468.00 900.7V866.3M469.33 900.7V869.5M470.66 900.7V869.8M472.00 900.7V869.2M473.33 900.7V863.4M474.66 900.7V858.3M476.00 900.7V860.9M477.33 900.7V862.5M478.66 900.7V863.6M480.00 900.7V868.0M481.33 900.7V870.0M482.66 900.7V866.7M484.00 900.7V864.2M485.33 900.7V865.0M486.66 900.7V865.0M488.00 900.7V863.0M489.33 900.7V860.8M490.66 900.7V858.1M492.00 900.7V856.3M493.33 900.7V857.4M494.66 900.7V852.2M496.00 900.7V844.5M497.33 900.7V843.8M498.66 900.7V843.2M500.00 900.7V844.4M501.33 900.7V832.1M502.66 900.7V821.4M504.00 900.7V829.5M505.33 900.7V827.4M506.66 900.7V821.4M508.00 900.7V826.0M509.33 900.7V825.9M510.66 900.7V819.5M512.00 900.7V808.3M513.33 900.7V819.5M514.66 900.7V820.5M516.00 900.7V814.2M517.33 900.7V814.9M518.66 900.7V823.4M520.00 900.7V825.3M521.33 900.7V823.4M522.66 900.7V822.4M524.00 900.7V821.4M525.33 900.7V827.4M526.66 900.7V844.1M528.00 900.7V838.1M529.33 900.7V828.0M530.66 900.7V841.8M532.00 900.7V840.8M533.33 900.7V835.9M534.66 900.7V847.5M536.00 900.7V853.3M537.33 900.7V857.6M538.66 900.7V862.1M540.00 900.7V866.5M541.33 900.7V867.2M542.66 900.7V874.6M544.00 900.7V869.3M545.33 900.7V879.2M546.66 900.7V884.1M548.00 900.7V886.2M549.33 900.7V883.4M550.66 900.7V883.4M552.00 900.7V887.6M553.33 900.7V888.3M554.66 900.7V891.5M556.00 900.7V893.0M557.33 900.7V893.6M558.66 900.7V893.9M560.00 900.7V893.2M561.33 900.7V894.8M562.66 900.7V896.8M564.00 900.7V897.3M565.33 900.7V897.3M566.66 900.7V896.8M568.00 900.7V896.4M569.33 900.7V896.1M570.66 900.7V897.9M572.00 900.7V898.4M573.33 900.7V898.6M574.66 900.7V898.8M576.00 900.7V898.9M577.33 900.7V898.9M578.66 900.7V898.9M580.00 900.7V898.9M581.33 900.7V898.9M582.66 900.7V898.9M584.00 900.7V898.9M585.33 900.7V898.9M586.66 900.7V898.9M588.00 900.7V898.9M589.33 900.7V898.9M590.66 900.7V899.0M592.00 900.7V899.1M593.33 900.7V899.2M594.66 900.7V899.2M595.99 900.7V899.3M597.33 900.7V899.3M598.66 900.7V899.3M599.99 900.7V899.3M601.33 900.7V899.3M602.66 900.7V899.3M603.99 900.7V899.3M605.33 900.7V899.3M606.66 900.7V899.3" stroke="#32aa38" stroke-width="0.85" fill="none"/>
<rect x="467" y="497.1" width="30.7" height="403.6" fill="url(#hatchw)"/>
<line x1="484" y1="498.5" x2="484" y2="900.7" stroke="#3a3aa8" stroke-width="1.5" stroke-dasharray="1.8 1.7"/>
<path d="M177.70 899.60 L178.65 899.41 L179.31 899.27 L180.07 899.12 L180.84 898.94 L181.62 898.75 L182.40 898.54 L183.17 898.31 L183.94 898.09 L184.71 897.86 L185.48 897.63 L186.25 897.40 L187.02 897.17 L187.78 896.94 L188.55 896.71 L189.32 896.48 L190.09 896.25 L190.86 896.02 L191.63 895.79 L192.40 895.56 L193.15 895.30 L193.88 894.99 L194.58 894.62 L195.24 894.19 L195.87 893.70 L196.50 893.20 L197.12 892.70 L197.74 892.19 L198.36 891.68 L198.99 891.17 L199.61 890.66 L200.23 890.15 L200.85 889.65 L201.47 889.14 L202.09 888.63 L202.72 888.12 L203.34 887.62 L203.97 887.12 L204.61 886.64 L205.27 886.19 L205.95 885.75 L206.63 885.33 L207.31 884.91 L208.00 884.49 L208.69 884.08 L209.37 883.66 L210.06 883.24 L210.74 882.82 L211.43 882.41 L212.12 881.99 L212.79 881.56 L213.45 881.11 L214.06 880.62 L214.62 880.07 L215.11 879.45 L215.57 878.80 L216.02 878.13 L216.46 877.46 L216.90 876.79 L217.34 876.12 L217.78 875.45 L218.22 874.78 L218.66 874.10 L219.10 873.43 L219.54 872.76 L219.98 872.09 L220.42 871.42 L220.86 870.75 L221.30 870.07 L221.73 869.40 L222.15 868.71 L222.54 868.01 L222.91 867.30 L223.27 866.58 L223.62 865.86 L223.96 865.14 L224.31 864.41 L224.66 863.69 L225.01 862.96 L225.35 862.24 L225.70 861.52 L226.05 860.79 L226.39 860.07 L226.74 859.34 L227.09 858.62 L227.44 857.90 L227.79 857.18 L228.15 856.46 L228.52 855.75 L228.90 855.04 L229.29 854.34 L229.68 853.63 L230.07 852.93 L230.45 852.23 L230.84 851.53 L231.23 850.82 L231.62 850.12 L232.01 849.42 L232.40 848.71 L232.79 848.01 L233.18 847.31 L233.57 846.61 L233.95 845.90 L234.33 845.20 L234.69 844.48 L235.03 843.75 L235.34 843.02 L235.64 842.27 L235.93 841.52 L236.22 840.77 L236.51 840.02 L236.80 839.28 L237.09 838.53 L237.38 837.78 L237.67 837.03 L237.96 836.28 L238.25 835.53 L238.54 834.78 L238.83 834.03 L239.12 833.28 L239.41 832.53 L239.70 831.79 L240.00 831.04 L240.30 830.30 L240.61 829.55 L240.92 828.81 L241.23 828.07 L241.54 827.33 L241.85 826.59 L242.16 825.85 L242.47 825.11 L242.78 824.37 L243.09 823.63 L243.40 822.89 L243.71 822.15 L244.02 821.41 L244.33 820.67 L244.64 819.93 L244.95 819.18 L245.25 818.44 L245.55 817.70 L245.85 816.95 L246.14 816.20 L246.44 815.46 L246.73 814.71 L247.03 813.96 L247.32 813.21 L247.62 812.47 L247.91 811.72 L248.20 810.97 L248.50 810.23 L248.79 809.48 L249.09 808.73 L249.38 807.98 L249.67 807.24 L249.96 806.48 L250.22 805.73 L250.46 804.96 L250.67 804.19 L250.87 803.41 L251.06 802.63 L251.25 801.85 L251.43 801.07 L251.62 800.29 L251.81 799.51 L251.99 798.73 L252.18 797.95 L252.37 797.17 L252.55 796.38 L252.74 795.60 L252.93 794.82 L253.11 794.04 L253.30 793.26 L253.49 792.48 L253.67 791.70 L253.86 790.92 L254.05 790.14 L254.24 789.36 L254.43 788.58 L254.62 787.80 L254.82 787.02 L255.01 786.24 L255.21 785.46 L255.40 784.68 L255.59 783.90 L255.79 783.12 L255.98 782.34 L256.18 781.56 L256.37 780.78 L256.56 780.00 L256.76 779.22 L256.95 778.45 L257.15 777.67 L257.34 776.89 L257.53 776.11 L257.73 775.33 L257.92 774.55 L258.12 773.77 L258.31 772.99 L258.50 772.21 L258.70 771.43 L258.89 770.65 L259.09 769.87 L259.28 769.09 L259.47 768.31 L259.67 767.54 L259.86 766.76 L260.06 765.98 L260.25 765.20 L260.44 764.42 L260.64 763.64 L260.83 762.86 L261.02 762.08 L261.22 761.30 L261.41 760.52 L261.61 759.74 L261.80 758.96 L261.99 758.18 L262.19 757.40 L262.38 756.63 L262.58 755.85 L262.77 755.07 L262.96 754.29 L263.16 753.51 L263.35 752.73 L263.55 751.95 L263.74 751.17 L263.93 750.39 L264.13 749.61 L264.32 748.83 L264.52 748.05 L264.71 747.27 L264.90 746.49 L265.10 745.72 L265.29 744.94 L265.49 744.16 L265.68 743.38 L265.88 742.60 L266.07 741.82 L266.27 741.04 L266.47 740.26 L266.66 739.48 L266.86 738.71 L267.06 737.93 L267.25 737.15 L267.45 736.37 L267.64 735.59 L267.84 734.81 L268.04 734.03 L268.23 733.25 L268.43 732.48 L268.63 731.70 L268.82 730.92 L269.02 730.14 L269.22 729.36 L269.41 728.58 L269.61 727.80 L269.80 727.03 L270.00 726.25 L270.20 725.47 L270.39 724.69 L270.59 723.91 L270.79 723.13 L270.99 722.35 L271.19 721.58 L271.41 720.81 L271.65 720.04 L271.91 719.28 L272.18 718.52 L272.44 717.77 L272.71 717.01 L272.98 716.25 L273.25 715.50 L273.52 714.74 L273.79 713.98 L274.06 713.23 L274.33 712.47 L274.60 711.72 L274.87 710.96 L275.14 710.20 L275.41 709.45 L275.68 708.69 L275.95 707.93 L276.22 707.18 L276.49 706.42 L276.75 705.66 L277.02 704.90 L277.28 704.14 L277.53 703.38 L277.79 702.62 L278.04 701.86 L278.29 701.10 L278.54 700.33 L278.79 699.57 L279.04 698.81 L279.30 698.05 L279.55 697.28 L279.80 696.52 L280.06 695.76 L280.32 695.00 L280.60 694.25 L280.89 693.50 L281.19 692.76 L281.50 692.02 L281.81 691.28 L282.12 690.54 L282.44 689.80 L282.75 689.05 L283.06 688.31 L283.37 687.57 L283.68 686.83 L283.99 686.09 L284.30 685.35 L284.61 684.61 L284.92 683.87 L285.24 683.13 L285.55 682.39 L285.86 681.65 L286.19 680.92 L286.52 680.19 L286.87 679.47 L287.22 678.74 L287.58 678.02 L287.93 677.30 L288.29 676.59 L288.65 675.87 L289.00 675.15 L289.36 674.43 L289.72 673.71 L290.07 672.99 L290.43 672.27 L290.79 671.55 L291.14 670.83 L291.51 670.11 L291.88 669.40 L292.27 668.70 L292.67 668.01 L293.08 667.32 L293.50 666.63 L293.91 665.94 L294.33 665.25 L294.74 664.57 L295.16 663.88 L295.57 663.19 L295.99 662.51 L296.41 661.82 L296.82 661.13 L297.24 660.45 L297.65 659.76 L298.07 659.07 L298.49 658.38 L298.90 657.70 L299.31 657.01 L299.73 656.32 L300.14 655.63 L300.55 654.94 L300.97 654.25 L301.38 653.57 L301.79 652.88 L302.21 652.19 L302.62 651.50 L303.03 650.81 L303.45 650.12 L303.86 649.43 L304.27 648.75 L304.69 648.06 L305.11 647.38 L305.55 646.71 L306.01 646.05 L306.50 645.42 L307.02 644.81 L307.54 644.20 L308.07 643.59 L308.59 642.99 L309.12 642.38 L309.65 641.77 L310.18 641.17 L310.70 640.56 L311.23 639.96 L311.76 639.35 L312.28 638.74 L312.81 638.14 L313.34 637.53 L313.87 636.93 L314.40 636.33 L314.94 635.73 L315.47 635.13 L316.01 634.53 L316.54 633.93 L317.08 633.33 L317.61 632.73 L318.14 632.14 L318.68 631.54 L319.21 630.94 L319.75 630.34 L320.28 629.74 L320.82 629.14 L321.36 628.54 L321.89 627.95 L322.44 627.36 L323.01 626.80 L323.61 626.27 L324.23 625.76 L324.86 625.26 L325.49 624.77 L326.12 624.27 L326.76 623.78 L327.39 623.29 L328.03 622.80 L328.66 622.30 L329.29 621.81 L329.93 621.32 L330.56 620.83 L331.20 620.33 L331.83 619.84 L332.48 619.36 L333.13 618.90 L333.80 618.46 L334.49 618.05 L335.18 617.64 L335.88 617.25 L336.58 616.85 L337.28 616.46 L337.98 616.07 L338.68 615.67 L339.38 615.28 L340.08 614.88 L340.78 614.49 L341.48 614.10 L342.18 613.71 L342.89 613.35 L343.62 613.05 L344.38 612.80 L345.15 612.60 L345.94 612.44 L346.72 612.28 L347.51 612.12 L348.30 611.96 L349.08 611.80 L349.87 611.65 L350.66 611.49 L351.45 611.33 L352.23 611.17 L353.02 611.02 L353.81 610.87 L354.60 610.74 L355.40 610.64 L356.19 610.56 L356.99 610.51 L357.80 610.46 L358.60 610.42 L359.40 610.38 L360.20 610.33 L361.00 610.29 L361.81 610.25 L362.61 610.21 L363.41 610.17 L364.21 610.12 L365.01 610.09 L365.82 610.05 L366.62 610.02 L367.42 610.01 L368.22 610.00 L369.03 610.00 L369.83 610.00 L370.63 610.00 L371.44 610.00 L372.24 610.00 L373.04 610.00 L373.84 610.00 L374.65 610.00 L375.45 610.00 L376.25 610.00 L377.06 610.00 L377.86 610.00 L378.66 610.00 L379.47 610.00 L380.27 610.00 L381.07 610.00 L381.88 610.00 L382.68 610.00 L383.48 610.00 L384.28 610.00 L385.09 610.00 L385.88 610.00 L386.65 610.00 L387.33 610.00 L388.30 610.00" fill="none" stroke="#151515" stroke-width="2.1" stroke-dasharray="7.2 6"/>
<path d="M318.00 899.80 L318.97 899.80 L319.65 899.80 L320.41 899.79 L321.21 899.79 L322.01 899.79 L322.81 899.79 L323.62 899.79 L324.42 899.78 L325.22 899.78 L326.02 899.78 L326.82 899.78 L327.63 899.78 L328.43 899.78 L329.23 899.77 L330.03 899.77 L330.84 899.77 L331.64 899.77 L332.44 899.77 L333.24 899.76 L334.04 899.76 L334.85 899.76 L335.65 899.76 L336.45 899.76 L337.25 899.75 L338.06 899.75 L338.86 899.75 L339.66 899.75 L340.46 899.75 L341.27 899.74 L342.07 899.74 L342.87 899.74 L343.67 899.74 L344.47 899.74 L345.28 899.74 L346.08 899.73 L346.88 899.73 L347.68 899.73 L348.49 899.73 L349.29 899.73 L350.09 899.72 L350.89 899.72 L351.69 899.72 L352.50 899.72 L353.30 899.72 L354.10 899.71 L354.90 899.71 L355.71 899.71 L356.51 899.71 L357.31 899.71 L358.11 899.70 L358.91 899.70 L359.72 899.70 L360.52 899.70 L361.32 899.70 L362.12 899.70 L362.93 899.70 L363.73 899.70 L364.53 899.70 L365.33 899.70 L366.13 899.70 L366.94 899.70 L367.74 899.70 L368.54 899.70 L369.34 899.70 L370.15 899.70 L370.95 899.70 L371.75 899.70 L372.55 899.70 L373.36 899.70 L374.16 899.70 L374.96 899.70 L375.76 899.70 L376.56 899.70 L377.37 899.70 L378.17 899.70 L378.97 899.70 L379.77 899.70 L380.58 899.70 L381.38 899.70 L382.18 899.70 L382.98 899.70 L383.78 899.70 L384.59 899.70 L385.39 899.70 L386.19 899.70 L386.99 899.70 L387.80 899.70 L388.60 899.70 L389.40 899.70 L390.20 899.70 L391.00 899.70 L391.81 899.70 L392.61 899.70 L393.41 899.70 L394.21 899.70 L395.02 899.70 L395.82 899.70 L396.62 899.70 L397.42 899.70 L398.22 899.70 L399.03 899.70 L399.83 899.70 L400.63 899.70 L401.43 899.70 L402.24 899.69 L403.04 899.68 L403.84 899.64 L404.64 899.59 L405.44 899.52 L406.24 899.45 L407.03 899.38 L407.83 899.30 L408.63 899.23 L409.43 899.15 L410.23 899.08 L411.03 899.00 L411.83 898.93 L412.63 898.85 L413.42 898.77 L414.22 898.70 L415.02 898.62 L415.82 898.55 L416.62 898.47 L417.42 898.39 L418.21 898.31 L419.01 898.22 L419.81 898.13 L420.61 898.04 L421.40 897.95 L422.20 897.86 L423.00 897.77 L423.80 897.68 L424.59 897.59 L425.39 897.51 L426.19 897.42 L426.98 897.33 L427.78 897.23 L428.58 897.14 L429.37 897.02 L430.16 896.88 L430.94 896.72 L431.72 896.53 L432.50 896.33 L433.28 896.14 L434.05 895.94 L434.83 895.74 L435.61 895.54 L436.38 895.34 L437.16 895.14 L437.94 894.94 L438.72 894.74 L439.49 894.55 L440.27 894.35 L441.05 894.15 L441.82 893.94 L442.59 893.71 L443.35 893.47 L444.11 893.21 L444.87 892.94 L445.62 892.66 L446.37 892.38 L447.13 892.11 L447.88 891.83 L448.63 891.55 L449.38 891.27 L450.14 891.00 L450.89 890.72 L451.64 890.44 L452.39 890.16 L453.14 889.88 L453.89 889.59 L454.63 889.29 L455.37 888.97 L456.11 888.65 L456.84 888.32 L457.57 888.00 L458.31 887.67 L459.04 887.35 L459.77 887.02 L460.50 886.69 L461.24 886.37 L461.97 886.04 L462.70 885.71 L463.44 885.39 L464.17 885.06 L464.89 884.72 L465.61 884.37 L466.32 883.99 L467.00 883.58 L467.68 883.15 L468.35 882.71 L469.02 882.27 L469.69 881.83 L470.36 881.39 L471.03 880.94 L471.70 880.50 L472.37 880.06 L473.04 879.62 L473.71 879.18 L474.38 878.73 L475.05 878.29 L475.71 877.85 L476.38 877.40 L477.05 876.95 L477.71 876.50 L478.37 876.04 L479.02 875.58 L479.68 875.12 L480.34 874.66 L480.99 874.20 L481.65 873.74 L482.31 873.28 L482.96 872.81 L483.62 872.35 L484.28 871.89 L484.93 871.43 L485.59 870.97 L486.24 870.51 L486.89 870.04 L487.54 869.56 L488.18 869.08 L488.81 868.59 L489.44 868.09 L490.08 867.60 L490.71 867.10 L491.34 866.60 L491.97 866.11 L492.60 865.61 L493.23 865.12 L493.86 864.62 L494.49 864.12 L495.12 863.63 L495.75 863.13 L496.37 862.63 L496.98 862.11 L497.55 861.56 L498.08 860.97 L498.57 860.34 L499.05 859.69 L499.51 859.04 L499.97 858.38 L500.44 857.73 L500.90 857.07 L501.36 856.42 L501.83 855.76 L502.29 855.11 L502.75 854.45 L503.22 853.80 L503.68 853.14 L504.14 852.48 L504.59 851.82 L505.03 851.15 L505.46 850.48 L505.89 849.80 L506.32 849.12 L506.75 848.44 L507.17 847.76 L507.60 847.08 L508.03 846.41 L508.46 845.73 L508.88 845.05 L509.31 844.37 L509.74 843.69 L510.16 843.01 L510.59 842.33 L511.03 841.66 L511.48 841.00 L511.94 840.34 L512.41 839.69 L512.89 839.04 L513.36 838.40 L513.84 837.75 L514.31 837.11 L514.79 836.46 L515.26 835.81 L515.73 835.16 L516.19 834.50 L516.62 833.83 L517.03 833.15 L517.43 832.45 L517.81 831.74 L518.19 831.03 L518.56 830.33 L518.94 829.62 L519.32 828.91 L519.70 828.20 L520.08 827.50 L520.46 826.79 L520.86 826.10 L521.28 825.42 L521.73 824.76 L522.21 824.12 L522.70 823.48 L523.19 822.85 L523.68 822.21 L524.18 821.58 L524.67 820.95 L525.17 820.32 L525.68 819.70 L526.19 819.09 L526.72 818.48 L527.25 817.88 L527.79 817.29 L528.33 816.69 L528.86 816.09 L529.40 815.50 L529.93 814.90 L530.47 814.30 L531.00 813.70 L531.54 813.11 L532.07 812.51 L532.61 811.91 L533.14 811.31 L533.67 810.71 L534.21 810.11 L534.74 809.51 L535.27 808.91 L535.81 808.31 L536.35 807.72 L536.90 807.15 L537.49 806.62 L538.12 806.15 L538.80 805.74 L539.50 805.36 L540.21 804.99 L540.93 804.64 L541.65 804.28 L542.37 803.92 L543.09 803.58 L543.82 803.25 L544.56 802.96 L545.32 802.70 L546.08 802.46 L546.85 802.24 L547.62 802.01 L548.40 801.79 L549.17 801.57 L549.94 801.36 L550.72 801.17 L551.50 801.00 L552.29 800.84 L553.08 800.70 L553.87 800.56 L554.66 800.42 L555.45 800.28 L556.24 800.14 L557.03 800.00 L557.82 799.87 L558.61 799.76 L559.41 799.67 L560.21 799.60 L561.00 799.53 L561.80 799.47 L562.61 799.42 L563.41 799.36 L564.21 799.30 L565.01 799.24 L565.81 799.18 L566.61 799.13 L567.41 799.07 L568.21 799.01 L569.01 798.95 L569.81 798.89 L570.61 798.83 L571.41 798.78 L572.21 798.72 L573.01 798.66 L573.81 798.61 L574.61 798.56 L575.41 798.53 L576.21 798.51 L577.01 798.50 L577.81 798.50 L578.62 798.50 L579.42 798.50 L580.22 798.50 L581.02 798.50 L581.83 798.50 L582.63 798.50 L583.43 798.50 L584.23 798.50 L585.03 798.50 L585.84 798.50 L586.64 798.50 L587.44 798.50 L588.24 798.50 L589.05 798.50 L589.85 798.50 L590.65 798.50 L591.45 798.50 L592.26 798.50 L593.06 798.50 L593.86 798.50 L594.66 798.50 L595.46 798.50 L596.27 798.50 L597.07 798.50 L597.87 798.50 L598.67 798.50 L599.48 798.50 L600.28 798.50 L601.08 798.50 L601.88 798.50 L602.68 798.50 L603.49 798.50 L604.29 798.50 L605.09 798.50 L605.89 798.50 L606.65 798.50 L607.33 798.50 L608.30 798.50" fill="none" stroke="#151515" stroke-width="2.1" stroke-dasharray="7.2 6"/>
<rect x="87.0" y="496.5" width="568.0" height="404.20000000000005" fill="none" stroke="#383432" stroke-width="1.3"/>
<line x1="79.5" y1="900.7" x2="87.0" y2="900.7" stroke="#383432" stroke-width="1.3"/>
<text x="78.4" y="907.8" font-size="20.5" font-weight="bold" text-anchor="end" fill="#111">0</text>
<line x1="79.5" y1="845.9" x2="87.0" y2="845.9" stroke="#383432" stroke-width="1.3"/>
<text x="77.6" y="852.6" font-size="19.5" font-weight="bold" text-anchor="end" fill="#111">1</text>
<line x1="79.5" y1="791.1" x2="87.0" y2="791.1" stroke="#383432" stroke-width="1.3"/>
<text x="77.6" y="797.8" font-size="19.5" font-weight="bold" text-anchor="end" fill="#111">2</text>
<line x1="79.5" y1="736.3" x2="87.0" y2="736.3" stroke="#383432" stroke-width="1.3"/>
<text x="77.6" y="743.0" font-size="19.5" font-weight="bold" text-anchor="end" fill="#111">3</text>
<line x1="79.5" y1="681.5" x2="87.0" y2="681.5" stroke="#383432" stroke-width="1.3"/>
<text x="77.6" y="688.2" font-size="19.5" font-weight="bold" text-anchor="end" fill="#111">4</text>
<line x1="79.5" y1="626.7" x2="87.0" y2="626.7" stroke="#383432" stroke-width="1.3"/>
<text x="77.6" y="633.4" font-size="19.5" font-weight="bold" text-anchor="end" fill="#111">5</text>
<line x1="79.5" y1="571.9" x2="87.0" y2="571.9" stroke="#383432" stroke-width="1.3"/>
<text x="77.6" y="578.6" font-size="19.5" font-weight="bold" text-anchor="end" fill="#111">6</text>
<line x1="79.5" y1="517.1" x2="87.0" y2="517.1" stroke="#383432" stroke-width="1.3"/>
<text x="77.6" y="523.8" font-size="19.5" font-weight="bold" text-anchor="end" fill="#111">7</text>
<line x1="655.0" y1="900.7" x2="662" y2="900.7" stroke="#383432" stroke-width="1.3"/>
<text x="663.5" y="907.4" font-size="19.5" font-weight="bold" fill="#111">0</text>
<line x1="655.0" y1="861.8" x2="662" y2="861.8" stroke="#383432" stroke-width="1.3"/>
<text x="663.5" y="868.5" font-size="19.5" font-weight="bold" fill="#111">27</text>
<line x1="655.0" y1="822.9" x2="662" y2="822.9" stroke="#383432" stroke-width="1.3"/>
<text x="663.5" y="829.6" font-size="19.5" font-weight="bold" fill="#111">54</text>
<line x1="655.0" y1="783.9" x2="662" y2="783.9" stroke="#383432" stroke-width="1.3"/>
<text x="663.5" y="790.6" font-size="19.5" font-weight="bold" fill="#111">81</text>
<line x1="655.0" y1="745.0" x2="662" y2="745.0" stroke="#383432" stroke-width="1.3"/>
<text x="663.5" y="751.7" font-size="19.5" font-weight="bold" fill="#111">108</text>
<line x1="655.0" y1="706.1" x2="662" y2="706.1" stroke="#383432" stroke-width="1.3"/>
<text x="663.5" y="712.8" font-size="19.5" font-weight="bold" fill="#111">135</text>
<line x1="655.0" y1="667.2" x2="662" y2="667.2" stroke="#383432" stroke-width="1.3"/>
<text x="663.5" y="673.9" font-size="19.5" font-weight="bold" fill="#111">162</text>
<line x1="655.0" y1="628.3" x2="662" y2="628.3" stroke="#383432" stroke-width="1.3"/>
<text x="663.5" y="635.0" font-size="19.5" font-weight="bold" fill="#111">189</text>
<line x1="655.0" y1="589.3" x2="662" y2="589.3" stroke="#383432" stroke-width="1.3"/>
<text x="663.5" y="596.0" font-size="19.5" font-weight="bold" fill="#111">216</text>
<line x1="655.0" y1="550.4" x2="662" y2="550.4" stroke="#383432" stroke-width="1.3"/>
<text x="663.5" y="557.1" font-size="19.5" font-weight="bold" fill="#111">243</text>
<line x1="655.0" y1="511.5" x2="662" y2="511.5" stroke="#383432" stroke-width="1.3"/>
<text x="663.5" y="518.2" font-size="19.5" font-weight="bold" fill="#111">270</text>
<line x1="87.0" y1="900.7" x2="87.0" y2="904.3000000000001" stroke="#383432" stroke-width="1.3"/>
<line x1="107.6" y1="900.7" x2="107.6" y2="905.5" stroke="#383432" stroke-width="1.3"/>
<text x="108.8" y="918.4" font-size="16" font-weight="bold" letter-spacing="0.8" text-anchor="middle" fill="#111">Jan</text>
<line x1="148.3" y1="900.7" x2="148.3" y2="905.5" stroke="#383432" stroke-width="1.3"/>
<text x="148.0" y="918.4" font-size="16" font-weight="bold" letter-spacing="0.8" text-anchor="middle" fill="#111">Feb</text>
<line x1="187.5" y1="900.7" x2="187.5" y2="905.5" stroke="#383432" stroke-width="1.3"/>
<text x="186.9" y="918.4" font-size="16" font-weight="bold" letter-spacing="0.8" text-anchor="middle" fill="#111">Mar</text>
<line x1="228.2" y1="900.7" x2="228.2" y2="905.5" stroke="#383432" stroke-width="1.3"/>
<text x="226.6" y="918.4" font-size="16" font-weight="bold" letter-spacing="0.8" text-anchor="middle" fill="#111">Apr</text>
<line x1="268.1" y1="900.7" x2="268.1" y2="905.5" stroke="#383432" stroke-width="1.3"/>
<text x="266.4" y="918.4" font-size="16" font-weight="bold" letter-spacing="0.8" text-anchor="middle" fill="#111">May</text>
<line x1="309.3" y1="900.7" x2="309.3" y2="905.5" stroke="#383432" stroke-width="1.3"/>
<text x="309.7" y="918.4" font-size="16" font-weight="bold" letter-spacing="0.8" text-anchor="middle" fill="#111">Jun</text>
<line x1="349.5" y1="900.7" x2="349.5" y2="905.5" stroke="#383432" stroke-width="1.3"/>
<text x="348.1" y="918.4" font-size="16" font-weight="bold" letter-spacing="0.8" text-anchor="middle" fill="#111">Jul</text>
<line x1="391.1" y1="900.7" x2="391.1" y2="905.5" stroke="#383432" stroke-width="1.3"/>
<text x="390.6" y="918.4" font-size="16" font-weight="bold" letter-spacing="0.8" text-anchor="middle" fill="#111">Aug</text>
<line x1="432.1" y1="900.7" x2="432.1" y2="905.5" stroke="#383432" stroke-width="1.3"/>
<text x="432.4" y="918.4" font-size="16" font-weight="bold" letter-spacing="0.8" text-anchor="middle" fill="#111">Sep</text>
<line x1="471.8" y1="900.7" x2="471.8" y2="905.5" stroke="#383432" stroke-width="1.3"/>
<text x="470.7" y="918.4" font-size="16" font-weight="bold" letter-spacing="0.8" text-anchor="middle" fill="#111">Oct</text>
<line x1="513.3" y1="900.7" x2="513.3" y2="905.5" stroke="#383432" stroke-width="1.3"/>
<text x="512.4" y="918.4" font-size="16" font-weight="bold" letter-spacing="0.8" text-anchor="middle" fill="#111">Nov</text>
<line x1="553.2" y1="900.7" x2="553.2" y2="905.5" stroke="#383432" stroke-width="1.3"/>
<text x="553.3" y="918.4" font-size="16" font-weight="bold" letter-spacing="0.8" text-anchor="middle" fill="#111">Dec</text>
<line x1="594.2" y1="900.7" x2="594.2" y2="905.5" stroke="#383432" stroke-width="1.3"/>
<text x="595.4" y="918.4" font-size="16" font-weight="bold" letter-spacing="0.8" text-anchor="middle" fill="#111">Jan</text>
<line x1="635.9" y1="900.7" x2="635.9" y2="905.5" stroke="#383432" stroke-width="1.3"/>
<text x="635.8" y="918.4" font-size="16" font-weight="bold" letter-spacing="0.8" text-anchor="middle" fill="#111">Feb</text>
<text x="93.6" y="537.8" font-size="46.5" font-style="italic" letter-spacing="-0.95" fill="#111">L.osakensis</text>
<text transform="translate(33.2,591) rotate(-90)" font-size="44.8" fill="#111">Daily Total (100s)</text>
<text transform="translate(749.3,663.5) rotate(-90)" font-size="44.8" fill="#111">Cumulative Total (1000s)</text>
<text x="369.8" y="956.2" font-size="20.5" font-weight="bold" letter-spacing="0.9" text-anchor="middle" fill="#111">Month</text>
</svg></body></html>
